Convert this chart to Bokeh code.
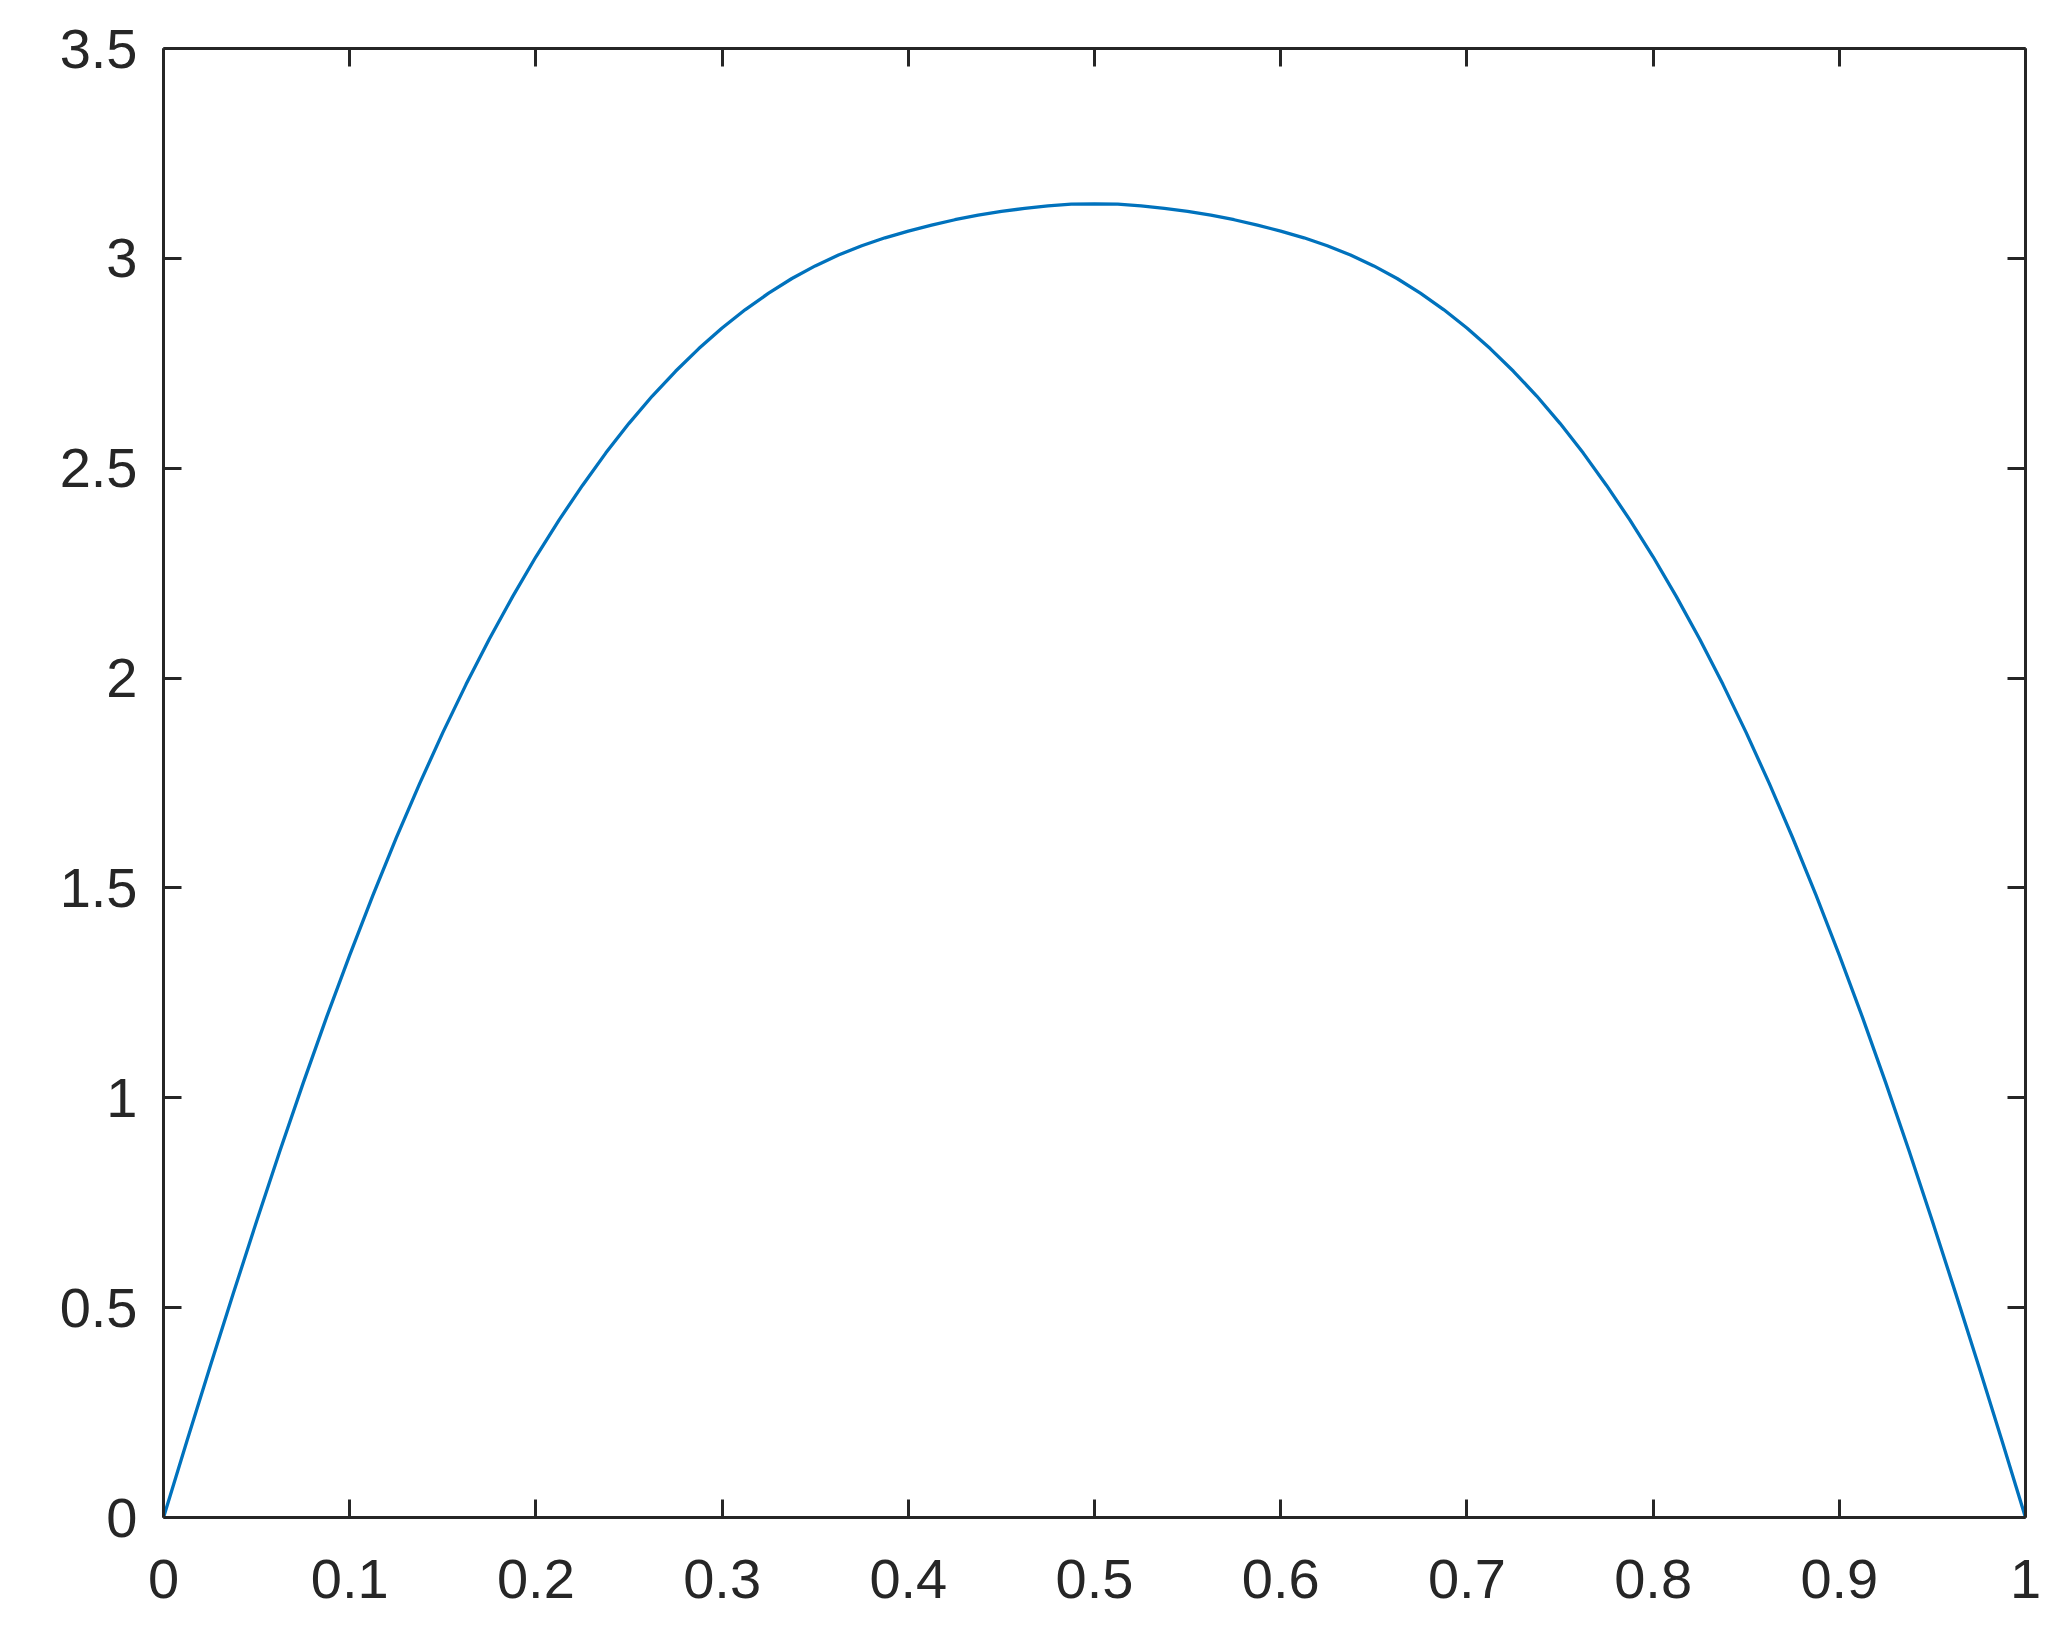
from bokeh.plotting import figure
from bokeh.models import Range1d, LinearAxis, FixedTicker
from bokeh.embed import file_html
from bokeh.resources import INLINE

x_vals = [round(i * 0.0125, 4) for i in range(81)]
y_vals = [0.0, 0.181, 0.359, 0.534, 0.706, 0.873, 1.035, 1.191, 1.340, 1.483,
          1.619, 1.748, 1.870, 1.985, 2.093, 2.194, 2.289, 2.377, 2.459, 2.536,
          2.607, 2.672, 2.731, 2.785, 2.834, 2.878, 2.917, 2.952, 2.982, 3.008,
          3.030, 3.049, 3.065, 3.079, 3.092, 3.103, 3.112, 3.119, 3.125, 3.129,
          3.130,
          3.129, 3.125, 3.119, 3.112, 3.103, 3.092, 3.079, 3.065, 3.049, 3.030,
          3.008, 2.982, 2.952, 2.917, 2.878, 2.834, 2.785, 2.731, 2.672, 2.607,
          2.536, 2.459, 2.377, 2.289, 2.194, 2.093, 1.985, 1.870, 1.748, 1.619,
          1.483, 1.340, 1.191, 1.035, 0.873, 0.706, 0.534, 0.359, 0.181, 0.0]

x_ticks = [0, 0.1, 0.2, 0.3, 0.4, 0.5, 0.6, 0.7, 0.8, 0.9, 1]
y_ticks = [0, 0.5, 1, 1.5, 2, 2.5, 3, 3.5]
x_labels = {0: "0", 0.1: "0.1", 0.2: "0.2", 0.3: "0.3", 0.4: "0.4", 0.5: "0.5",
            0.6: "0.6", 0.7: "0.7", 0.8: "0.8", 0.9: "0.9", 1: "1"}
y_labels = {0: "0", 0.5: "0.5", 1: "1", 1.5: "1.5", 2: "2", 2.5: "2.5", 3: "3", 3.5: "3.5"}

AX = "#262626"
FONT = "Liberation Sans"
FS = "56px"

p = figure(frame_width=1862, frame_height=1469, output_backend="svg", toolbar_location=None,
           x_range=Range1d(0, 1), y_range=Range1d(0, 3.5),
           min_border_left=163, min_border_right=20, min_border_top=48, min_border_bottom=110,
           x_axis_location=None, y_axis_location=None)
p.grid.visible = False
p.outline_line_color = None
p.background_fill_color = "white"
p.border_fill_color = "white"

p.line(x_vals, y_vals, line_color="#0072BD", line_width=3.3, line_join="round")

def style(ax, labels, show):
    ax.axis_line_color = AX
    ax.axis_line_width = 3
    ax.major_tick_line_color = AX
    ax.major_tick_line_width = 3
    ax.major_tick_in = 18
    ax.major_tick_out = 0
    ax.minor_tick_line_color = None
    ax.major_label_text_font = FONT
    ax.major_label_text_color = AX
    if show:
        ax.major_label_text_font_size = FS
        ax.major_label_overrides = labels
    else:
        ax.major_label_text_font_size = "1px"
        ax.major_label_overrides = {k: "" for k in labels}
        ax.major_label_standoff = 0

xb = LinearAxis(ticker=FixedTicker(ticks=x_ticks))
style(xb, x_labels, True)
xb.major_label_standoff = 42
p.add_layout(xb, "below")

yl = LinearAxis(ticker=FixedTicker(ticks=y_ticks))
style(yl, y_labels, True)
yl.major_label_standoff = 26
p.add_layout(yl, "left")

xt = LinearAxis(ticker=FixedTicker(ticks=x_ticks))
style(xt, x_labels, False)
p.add_layout(xt, "above")

yr = LinearAxis(ticker=FixedTicker(ticks=y_ticks))
style(yr, y_labels, False)
p.add_layout(yr, "right")

open("out.html", "w").write(file_html(p, INLINE))
